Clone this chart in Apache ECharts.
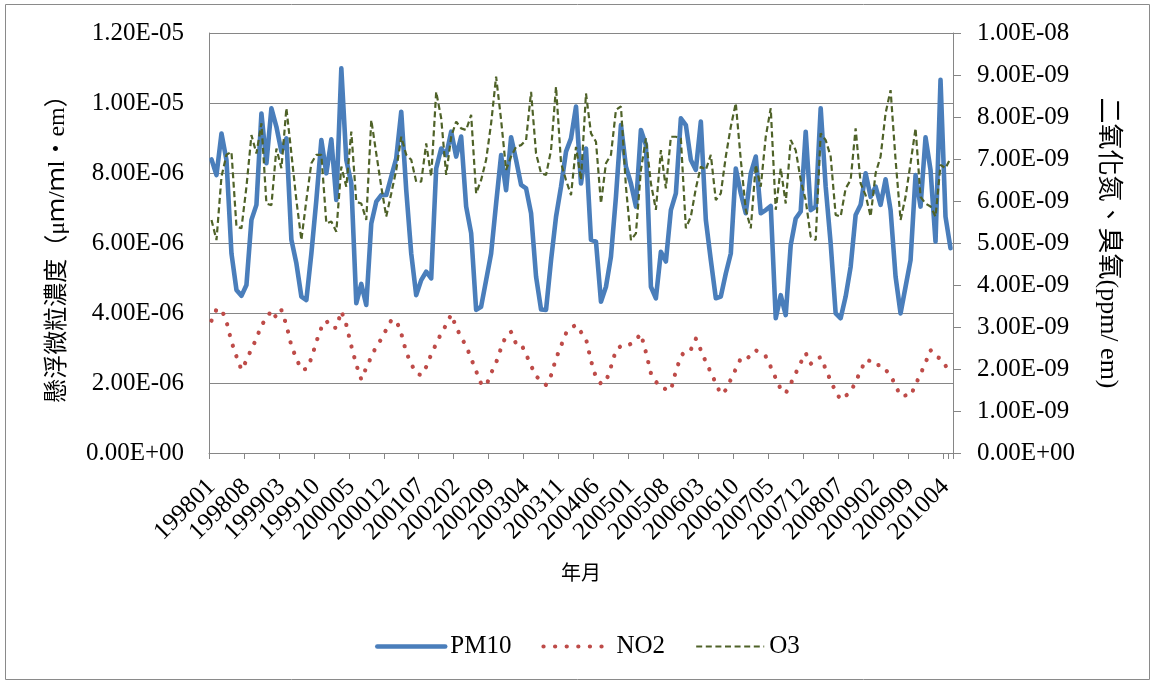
<!DOCTYPE html>
<html>
<head>
<meta charset="utf-8">
<script src="https://cdn.jsdelivr.net/npm/echarts@6/dist/echarts.min.js"></script>
<style>
html,body{margin:0;padding:0;background:#fff;}
#chart{width:1155px;height:684px;}
</style>
</head>
<body>
<div id="chart"></div>
<script>
// Month categories 199801 .. 201005
const categories = [];
for (let y = 1998; y <= 2010; y++) {
  for (let m = 1; m <= 12; m++) {
    if (y === 2010 && m > 5) break;
    categories.push(String(y) + (m < 10 ? '0' + m : String(m)));
  }
}

// PM10, in units of 1E-06 (left axis)
const pm10 = [
  8.39,7.94,9.13,8.37,5.70,4.66,4.49,4.80,6.66,7.09,9.70,8.28,
  9.85,9.32,8.61,8.99,6.09,5.42,4.47,4.37,5.70,7.23,8.94,7.99,
  8.96,7.23,10.99,8.37,7.70,4.28,4.83,4.23,6.56,7.18,7.37,7.37,
  7.90,8.42,9.75,7.51,5.70,4.51,4.94,5.18,4.99,8.13,8.70,8.51,
  9.18,8.47,9.04,7.04,6.28,4.09,4.18,4.94,5.70,7.13,8.51,7.51,
  9.02,8.37,7.66,7.56,6.85,5.04,4.10,4.09,5.51,6.75,7.61,8.61,
  8.99,9.90,7.70,8.70,6.09,6.04,4.32,4.75,5.61,7.32,9.37,8.18,
  7.70,7.04,9.23,8.80,4.75,4.42,5.75,5.47,6.94,7.42,9.56,9.37,
  8.37,8.09,9.47,6.66,5.51,4.42,4.47,5.13,5.70,8.13,7.42,6.85,
  7.99,8.47,6.85,6.94,7.06,3.85,4.51,3.94,5.94,6.70,6.90,9.18,
  6.94,7.04,9.85,7.61,5.99,3.99,3.85,4.47,5.32,6.80,7.09,7.99,
  7.32,7.61,7.09,7.82,6.94,5.04,3.99,4.75,5.51,7.94,7.04,9.02,
  8.09,6.04,10.66,6.75,5.85
];

// NO2, in units of 1E-09 (right axis)
const no2 = [
  3.15,3.42,3.42,3.13,2.65,2.30,1.98,2.20,2.48,2.72,3.05,3.19,
  3.40,3.22,3.40,3.05,2.55,2.25,1.98,2.00,2.25,2.65,2.98,3.15,
  2.98,2.98,3.38,3.05,2.55,2.10,1.75,2.03,2.29,2.54,2.71,2.94,
  3.16,3.16,2.85,2.40,2.12,1.90,1.85,2.05,2.35,2.60,2.85,3.05,
  3.30,3.00,2.75,2.55,2.25,1.95,1.65,1.60,1.90,2.15,2.50,2.80,
  2.88,2.60,2.60,2.35,2.08,1.83,1.72,1.62,1.85,2.25,2.55,2.85,
  2.98,3.05,2.88,2.72,2.20,1.80,1.65,1.70,2.05,2.45,2.55,2.54,
  2.60,2.70,2.84,2.40,1.90,1.70,1.56,1.52,1.49,1.95,2.30,2.45,
  2.46,2.72,2.45,2.17,1.92,1.66,1.40,1.50,1.75,2.00,2.25,2.22,
  2.33,2.45,2.36,2.30,2.05,1.78,1.52,1.42,1.65,1.90,2.15,2.38,
  2.12,2.25,2.28,2.00,1.72,1.46,1.27,1.36,1.45,1.70,1.95,2.22,
  2.19,2.08,2.10,1.98,1.85,1.60,1.36,1.37,1.36,1.63,1.88,2.15,
  2.45,2.30,2.25,2.08,1.90
];

// O3, in units of 1E-09 (right axis)
const o3 = [
  5.55,5.07,6.58,7.10,7.17,5.39,5.35,6.34,7.57,7.13,7.85,5.94,
  5.90,7.25,6.78,8.21,7.13,6.02,5.07,6.02,6.90,7.10,7.10,5.47,
  5.51,5.27,6.82,6.34,7.65,5.98,5.94,5.55,7.93,7.13,6.34,5.63,
  6.18,6.74,7.53,7.10,6.98,6.46,6.46,7.37,6.58,8.60,7.97,6.62,
  7.53,7.89,7.73,7.69,8.05,6.18,6.50,6.98,7.85,8.96,7.93,6.74,
  7.06,7.29,7.33,7.45,8.60,7.13,6.66,6.62,7.21,8.72,6.90,6.50,
  6.14,7.29,6.50,8.56,7.61,7.41,5.94,6.90,7.10,8.17,8.25,6.34,
  5.07,5.23,6.74,7.49,6.42,5.79,7.21,6.30,7.53,7.53,7.49,5.35,
  5.63,6.30,6.82,6.74,7.10,6.02,6.18,7.06,7.77,8.33,6.98,5.79,
  5.35,6.86,6.34,7.53,8.21,5.79,6.78,5.94,7.45,7.21,6.50,6.02,
  5.15,5.07,7.61,7.45,7.06,5.67,5.63,6.30,6.50,7.73,6.42,6.14,
  5.63,6.66,7.06,8.09,8.64,6.98,5.55,6.10,6.90,7.73,6.10,5.94,
  5.87,5.63,6.86,6.78,7.02
];

const seriesNames = ['PM10', 'NO2', 'O3'];
const leftTitle = '懸浮微粒濃度（μｍ/ｍl・em）';
const rightTitle = '二氧化氮、臭氧(ppm/ em)';
const xTitle = '年月';
const labelEvery = 7; // a tick label every 7 months

function excelExp(x) {
  if (Math.abs(x) < 1e-30) return '0.00E+00';
  const s = x.toExponential(2);
  const parts = s.split('e');
  const e = parseInt(parts[1], 10);
  const sign = e < 0 ? '-' : '+';
  const d = Math.abs(e);
  return parts[0] + 'E' + sign + (d < 10 ? '0' + d : String(d));
}

const SERIF = '"Liberation Serif","Times New Roman","Noto Sans CJK TC",serif';
const GREY = '#868686';
const C_PM = '#4A7EBB', C_NO2 = '#BE4B48', C_O3 = '#4F6228';

const chart = echarts.init(document.getElementById('chart'), null, {renderer: 'canvas'});
chart.setOption({
  animation: false,
  backgroundColor: '#fff',
  textStyle: {fontFamily: SERIF, color: '#000'},
  graphic: [{
    type: 'rect',
    shape: {x: 5.5, y: 4.5, width: 1144, height: 675},
    style: {fill: 'none', stroke: '#8a8a8a', lineWidth: 1},
    silent: true
  }],
  grid: {left: 209, top: 33, right: 202, bottom: 231, containLabel: false},
  legend: {
    data: [
      {name: 'PM10', itemStyle: {opacity: 0}, lineStyle: {color: C_PM, width: 4.5, cap: 'round'}},
      {name: 'NO2', itemStyle: {opacity: 0}, lineStyle: {color: C_NO2, width: 4.2, type: [0.1, 11.5], cap: 'round'}},
      {name: 'O3', itemStyle: {opacity: 0}, lineStyle: {color: C_O3, width: 2.2, type: [6, 3.6]}}
    ],
    left: 370,
    top: 629,
    itemWidth: 68,
    itemHeight: 14,
    itemGap: 30,
    textStyle: {fontFamily: SERIF, fontSize: 25, color: '#000'}
  },
  xAxis: {
    type: 'category',
    data: categories,
    boundaryGap: true,
    name: xTitle,
    nameLocation: 'middle',
    nameGap: 112,
    nameTextStyle: {fontFamily: SERIF, fontSize: 20, color: '#000'},
    axisLine: {lineStyle: {color: GREY, width: 1}},
    axisTick: {show: true, interval: labelEvery - 1, length: 6, lineStyle: {color: GREY}},
    axisLabel: {
      interval: 0,
      formatter: (val, idx) => (idx % labelEvery === 0 ? val : ''),
      rotate: 45, fontSize: 25, fontFamily: SERIF, color: '#000', margin: 30,
      hideOverlap: false
    },
    splitLine: {show: false}
  },
  yAxis: [{
    type: 'value',
    min: 0, max: 12, interval: 2,
    position: 'left',
    name: leftTitle,
    nameLocation: 'middle',
    nameRotate: 90,
    nameGap: 139,
    nameTextStyle: {fontFamily: SERIF, fontSize: 24, color: '#000'},
    axisLine: {show: true, lineStyle: {color: GREY, width: 1}},
    axisTick: {show: false},
    axisLabel: {fontSize: 25, fontFamily: SERIF, color: '#000', margin: 25,
      formatter: v => excelExp(v * 1e-6)},
    splitLine: {show: true, lineStyle: {color: GREY, width: 1.2}}
  }, {
    type: 'value',
    min: 0, max: 10, interval: 1,
    position: 'right',
    name: rightTitle,
    nameLocation: 'middle',
    nameRotate: -90,
    nameGap: 142,
    nameTextStyle: {fontFamily: SERIF, fontSize: 26, color: '#000'},
    axisLine: {show: true, lineStyle: {color: GREY, width: 1}},
    axisTick: {show: true, inside: false, length: 8, lineStyle: {color: GREY}},
    axisLabel: {fontSize: 25, fontFamily: SERIF, color: '#000', margin: 24,
      formatter: v => excelExp(v * 1e-9)},
    splitLine: {show: false}
  }],
  series: [{
    name: 'PM10',
    type: 'line',
    yAxisIndex: 0,
    data: pm10,
    showSymbol: false,
    symbol: 'none',
    color: C_PM,
    lineStyle: {color: C_PM, width: 4.6, join: 'round', cap: 'round'},
    z: 2
  }, {
    name: 'NO2',
    type: 'line',
    yAxisIndex: 1,
    data: no2,
    showSymbol: false,
    symbol: 'none',
    color: C_NO2,
    lineStyle: {color: C_NO2, width: 4.2, type: [0.1, 11], cap: 'round', join: 'round'},
    z: 3
  }, {
    name: 'O3',
    type: 'line',
    yAxisIndex: 1,
    data: o3,
    showSymbol: false,
    symbol: 'none',
    color: C_O3,
    lineStyle: {color: C_O3, width: 2.2, type: [6, 3.5]},
    z: 4
  }]
});
</script>
</body>
</html>
